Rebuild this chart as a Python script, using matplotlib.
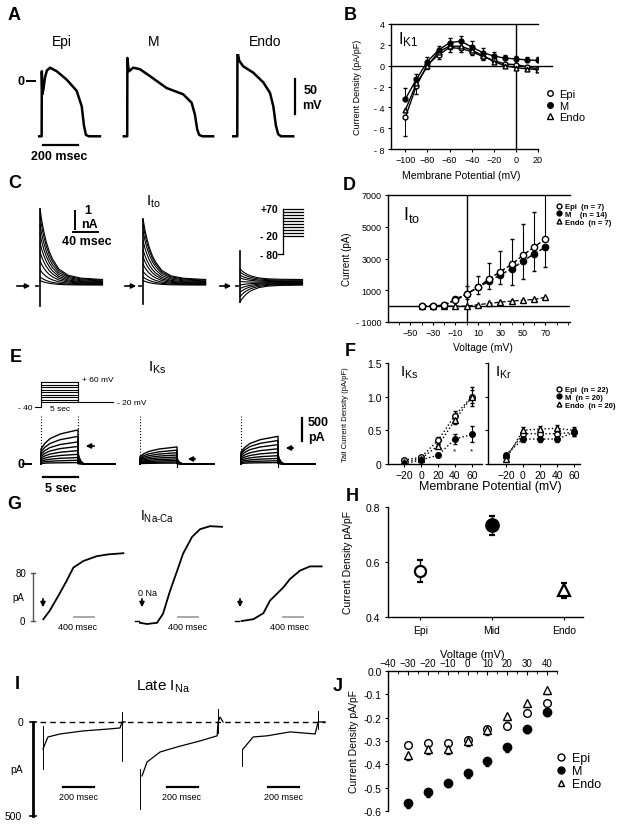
"""Multi-panel figure: transmural action potentials and ionic currents (Epi / M / Endo)."""

import matplotlib

matplotlib.use("Agg")
import matplotlib.pyplot as plt
import numpy as np
from matplotlib.lines import Line2D
from matplotlib.patches import FancyArrowPatch

plt.rcParams["font.family"] = ["Liberation Sans", "DejaVu Sans"]
plt.rcParams["mathtext.fontset"] = "custom"
plt.rcParams["mathtext.rm"] = "Liberation Sans"
plt.rcParams["mathtext.it"] = "Liberation Sans:italic"
plt.rcParams["axes.linewidth"] = 1.0
plt.rcParams["xtick.major.size"] = 3
plt.rcParams["ytick.major.size"] = 3

# ---------------- data ----------------
# A: action potentials (ms, mV)
AP_EPI_T = [-14, 0, 1, 4, 10, 19, 30, 48, 86, 143, 200, 229, 242, 253, 270, 333]
AP_EPI_V = [-79, -79, 14, -19, -12, 5, 15, 19, 14, 2, -14, -36, -64, -77, -79, -79]
AP_M_T = [-19, 0, 1, 6, 11, 34, 72, 130, 225, 320, 368, 387, 400, 411, 430, 491]
AP_M_V = [-79, -79, 33, 20, 14, 19, 17, 7, -10, -19, -31, -48, -69, -77, -79, -79]
AP_ENDO_T = [-23, 0, 1, 11, 34, 91, 149, 187, 206, 221, 234, 250, 320]
AP_ENDO_V = [-79, -79, 43, 29, 21, 12, -2, -17, -36, -64, -76, -79, -79]

# B: I_K1 density (pA/pF)
K1_V = [-100, -90, -80, -70, -60, -50, -40, -30, -20, -10, 0, 10, 20]
K1_EPI = [-4.95, -1.93, 0.1, 1.03, 1.75, 1.65, 1.35, 0.88, 0.5, 0.16, 0.1, -0.1, -0.3]
K1_M = [-3.2, -1.3, 0.4, 1.5, 2.2, 2.35, 1.8, 1.25, 0.93, 0.72, 0.65, 0.55, 0.5]
K1_ENDO = [-4.26, -1.7, -0.06, 1.35, 1.87, 1.87, 1.5, 0.97, 0.4, 0.0, -0.2, -0.3, -0.37]
K1_EPI_ERR = [1.8, 0.8, 0.4, 0.4, 0.4, 0.3, 0.3, 0.3, 0.2, 0.2, 0.2, 0.2, 0.2]
K1_M_ERR = [1.1, 0.5, 0.4, 0.4, 0.5, 0.5, 0.6, 0.4, 0.4, 0.3, 0.3, 0.3, 0.3]

# C: I_to traces (ms, nA)
C_T = [0, 3, 6, 10, 15, 20, 30, 45, 65, 100]
C_DECAY = [1.0, 0.82, 0.68, 0.53, 0.39, 0.29, 0.15, 0.06, 0.02, 0.0]
C_SS = [0.05, 0.08, 0.11, 0.14, 0.17, 0.20, 0.24, 0.28, 0.32, 0.36]
C_PEAK_EPI = [0.3, 0.5, 0.9, 1.4, 1.9, 2.4, 2.9, 3.4, 3.9, 4.3]
C_PEAK_M = [0.3, 0.5, 0.8, 1.2, 1.6, 2.0, 2.5, 3.0, 3.4, 3.7]
C_PEAK_ENDO = [-0.9, -0.6, -0.35, -0.15, 0.05, 0.25, 0.45, 0.6, 0.78, 0.95]
C_ART_LO = [-1.1, -1.0, -0.9]
C_ART_HI = [4.3, 3.7, 1.95]
C_STEPS_MV = [-20, -10, 0, 10, 20, 30, 40, 50, 60, 70]
C_HOLD_MV = -80

# D: I_to I-V (pA)
TO_V = [-40, -30, -20, -10, 0, 10, 20, 30, 40, 50, 60, 70]
TO_EPI = [0, 0, 80, 360, 760, 1185, 1714, 2180, 2625, 3200, 3720, 4230]
TO_M = [0, 0, 45, 444, 762, 1185, 1566, 1968, 2350, 2815, 3300, 3700]
TO_ENDO = [0, 0, 0, 0, 0, 90, 170, 250, 320, 370, 420, 560]
TO_EPI_ERR = [0, 0, 0, 0, 530, 740, 1000, 1300, 1580, 2000, 2180, 3150]
TO_M_ERR = [0, 0, 0, 0, 300, 400, 500, 600, 1000, 1100, 1060, 1250]

# E: I_Ks traces (s, pA)
E_RISE_T = [0, 0.5, 1.2, 2.6, 5.0]
E_RISE = [0.44, 0.6, 0.74, 0.88, 1.0]
E_TAIL_T = [5.0, 5.15, 5.4, 5.8, 10.0]
E_TAIL = [0.35, 0.2, 0.08, 0.0, 0.0]
E_FINAL_EPI = [30, 80, 140, 210, 290, 380, 480, 600, 740]
E_FINAL_M = [20, 45, 75, 110, 150, 195, 245, 300, 370]
E_FINAL_ENDO = [30, 70, 120, 180, 250, 330, 420, 510, 600]
E_STEPS_MV = [-20, -10, 0, 10, 20, 30, 40, 50, 60]
E_HOLD_MV = -40
E_TAIL_MV = -20

# F: tail current densities (pA/pF)
F_V = [-20, 0, 20, 40, 60]
KS_EPI = [0.06, 0.10, 0.35, 0.72, 1.0]
KS_M = [0.0, 0.06, 0.13, 0.37, 0.44]
KS_ENDO = [0.03, 0.08, 0.27, 0.65, 1.0]
KS_EPI_ERR = [0.02, 0.02, 0.05, 0.06, 0.14]
KS_M_ERR = [0.02, 0.02, 0.03, 0.08, 0.12]
KS_ENDO_ERR = [0.02, 0.02, 0.03, 0.05, 0.1]
KR_EPI = [0.10, 0.45, 0.45, 0.45, 0.47]
KR_M = [0.14, 0.37, 0.37, 0.37, 0.47]
KR_ENDO = [0.07, 0.50, 0.52, 0.53, 0.50]
KR_ERR = [0.03, 0.05, 0.05, 0.05, 0.05]

# G: I_Na-Ca traces (ms, pA)
G_EPI_T = [7, 133, 307, 473, 607, 807, 1073, 1300, 1607]
G_EPI_I = [3, 17, 42, 67, 89, 100, 108, 111, 113]
G_M_T = [-40, 100, 300, 420, 560, 700, 820, 1000, 1160, 1360, 1600]
G_M_I = [-3, -5, -3, 12, 50, 83, 112, 140, 153, 158, 157]
G_ENDO_T = [33, 267, 467, 600, 867, 1000, 1200, 1400, 1633]
G_ENDO_I = [0, 3, 13, 34, 56, 70, 84, 91, 91]

# H: I_Na-Ca density
H_CELLS = ["Epi", "Mid", "Endo"]
H_MEAN = [0.566, 0.733, 0.497]
H_ERR = [0.04, 0.035, 0.028]

# I: late I_Na traces (ms, pA)
I_EPI_T = [0, 32, 110, 258, 432, 497, 510, 530]
I_EPI_I = [-144, -80, -64, -48, -37, -32, 0, 0]
I_M_T = [13, 45, 129, 239, 387, 497, 503, 516, 535]
I_M_I = [-287, -213, -160, -133, -101, -74, 0, 26, 0]
I_ENDO_T = [6, 71, 161, 310, 471, 490, 535]
I_ENDO_I = [-144, -80, -74, -53, -64, 0, 0]
I_ART_T = [[0, 510], [0, 503], [0, 490]]
I_ART_LO = [[-250, -207], [-463, -60], [-234, -40]]
I_ART_HI = [[-21, 53], [-250, 69], [-144, 58]]

# J: late I_Na density
J_V = [-30, -20, -10, 0, 10, 20, 30, 40]
J_EPI = [-0.318, -0.31, -0.31, -0.296, -0.249, -0.234, -0.181, -0.138]
J_M = [-0.566, -0.52, -0.478, -0.437, -0.385, -0.325, -0.247, -0.174]
J_ENDO = [-0.36, -0.336, -0.336, -0.30, -0.253, -0.191, -0.135, -0.08]
J_ERR = 0.02

# ---------------- layout helpers (pixel coordinates, top-left origin) ----------------
W, H = 629, 828
fig = plt.figure(figsize=(W / 100, H / 100), dpi=100)


def px_axes(x0, y0, x1, y1):
    return fig.add_axes([x0 / W, 1 - y1 / H, (x1 - x0) / W, (y1 - y0) / H])


def ftext(x, y, s, **kw):
    kw.setdefault("ha", "center")
    kw.setdefault("va", "center")
    fig.text(x / W, 1 - y / H, s, **kw)


def farrow(x0, y0, x1, y1):
    fig.add_artist(
        FancyArrowPatch(
            (x0 / W, 1 - y0 / H),
            (x1 / W, 1 - y1 / H),
            transform=fig.transFigure,
            arrowstyle="-|>",
            mutation_scale=7,
            lw=1.2,
            color="black",
        )
    )


EPI = dict(marker="o", mfc="white", mec="black", color="black")
MID = dict(marker="o", mfc="black", mec="black", color="black")
ENDO = dict(marker="^", mfc="white", mec="black", color="black")

for letter, (x, y) in {
    "A": (14, 16), "B": (350, 16), "C": (15, 183), "D": (349, 185), "E": (16, 357),
    "F": (350, 352), "G": (14, 505), "H": (352, 497), "I": (17, 685), "J": (338, 687),
}.items():
    ftext(x, y, letter, fontsize=13, fontweight="bold")

# ---------------- A: action potentials ----------------
axA = px_axes(0, 55, 330, 165)
axA.set_xlim(-238, 1648)
axA.set_ylim(-118.6, 38.6)
axA.axis("off")
for (t, v), off in zip([(AP_EPI_T, AP_EPI_V), (AP_M_T, AP_M_V), (AP_ENDO_T, AP_ENDO_V)], [0, 489, 1118]):
    axA.plot(np.array(t) + off, v, color="black", lw=1.8)
axA.plot([7, 207], [-91, -91], color="black", lw=1.6)
axA.plot([1447, 1447], [3, -47], color="black", lw=1.6)
axA.plot([-84, -38], [0, 0], color="black", lw=1.4)
ftext(21, 82, "0", fontsize=9, fontweight="bold")
ftext(59, 157, "200 msec", fontsize=9, fontweight="bold")
ftext(311, 91, "50", fontsize=9, fontweight="bold")
ftext(312, 106, "mV", fontsize=9, fontweight="bold")
for name, x in [("Epi", 62), ("M", 154), ("Endo", 265)]:
    ftext(x, 42, name, fontsize=10)

# ---------------- B: I_K1 ----------------
axB = px_axes(391, 25, 538, 150)
axB.set_xlim(-113, 20)
axB.set_ylim(-8, 4)
axB.spines["right"].set_visible(False)
axB.axvline(0, color="black", lw=1)
axB.plot([-113, 33], [0, 0], color="black", lw=1, clip_on=False)
axB.errorbar(K1_V, K1_EPI, yerr=[K1_EPI_ERR, [0] * len(K1_V)], ms=3.5, lw=1, capsize=1.5, elinewidth=0.7, **EPI)
axB.errorbar(K1_V, K1_ENDO, ms=3.5, lw=1, **ENDO)
axB.errorbar(K1_V, K1_M, yerr=[[0] * len(K1_V), K1_M_ERR], ms=3.5, lw=1, capsize=1.5, elinewidth=0.7, **MID)
axB.set_xticks(range(-100, 21, 20))
axB.set_yticks(range(-8, 5, 2))
axB.set_yticklabels(["- 8", "- 6", "- 4", "- 2", "0", "2", "4"])
axB.tick_params(labelsize=6.5, length=2.5, pad=2)
axB.set_ylabel("Current Density (pA/pF)", fontsize=6.5)
axB.yaxis.set_label_coords(-0.2, 0.5)
axB.set_xlabel("Membrane Potential (mV)", fontsize=7.5)
axB.xaxis.set_label_coords(0.48, -0.17)
axB.text(0.05, 0.88, r"I$_{\rm K1}$", transform=axB.transAxes, fontsize=12, va="center")
hB = [Line2D([], [], ls="", ms=4, **s) for s in (EPI, MID, ENDO)]
fig.legend(hB, ["Epi", "M", "Endo"], loc="upper left", bbox_to_anchor=(546 / W, 1 - 90 / H), frameon=False,
           fontsize=8, handlelength=0.8, handletextpad=0.4, labelspacing=0.15, borderpad=0, borderaxespad=0)

# ---------------- C: I_to traces ----------------
axC = px_axes(0, 200, 320, 312)
axC.set_xlim(-64, 448)
axC.set_ylim(-1.39, 4.83)
axC.axis("off")
for k, (peaks, off) in enumerate(zip([C_PEAK_EPI, C_PEAK_M, C_PEAK_ENDO], [0, 165, 320])):
    for pk, ss in zip(peaks, C_SS):
        axC.plot(np.array(C_T) + off, ss + (pk - ss) * np.array(C_DECAY), color="black", lw=0.8)
    axC.plot([off, off], [C_ART_LO[k], C_ART_HI[k]], color="black", lw=1.2)
    axC.plot([off - 6.4, off - 3.2], [0, 0], color="black", lw=1.2)
axC.plot([53, 93], [3.0, 3.0], color="black", lw=1.4)
axC.plot([56, 56], [3.17, 4.17], color="black", lw=1.4)
ftext(88, 211, "1", fontsize=9, fontweight="bold")
ftext(89, 225, "nA", fontsize=9, fontweight="bold")
ftext(87, 242, "40 msec", fontsize=9, fontweight="bold")
ftext(153, 202, r"I$_{\rm to}$", fontsize=11)
for x0, x1 in [(14, 33), (122, 139), (217, 234)]:
    farrow(x0, 287, x1, 287)

axCp = px_axes(274, 205, 306, 262)
axCp.set_xlim(-9, 23)
axCp.set_ylim(-103, 86.7)
axCp.axis("off")
axCp.plot([-5, 0], [C_HOLD_MV, C_HOLD_MV], color="black", lw=0.9)
axCp.plot([0, 0], [C_HOLD_MV, max(C_STEPS_MV)], color="black", lw=0.9)
for v in C_STEPS_MV:
    axCp.plot([0, 20], [v, v], color="black", lw=0.9)
ftext(278, 210, "+70", fontsize=7.5, fontweight="bold", ha="right")
ftext(278, 237, "- 20", fontsize=7.5, fontweight="bold", ha="right")
ftext(278, 256, "- 80", fontsize=7.5, fontweight="bold", ha="right")

# ---------------- D: I_to I-V ----------------
axD = px_axes(388, 196, 570, 323)
axD.set_xlim(-70, 92)
axD.set_ylim(-1000, 7000)
axD.spines["right"].set_visible(False)
axD.axvline(0, color="black", lw=1)
axD.axhline(0, color="black", lw=1)
axD.errorbar(TO_V, TO_ENDO, ms=4, ls="--", lw=0.9, **ENDO)
axD.errorbar(TO_V, TO_M, yerr=[TO_M_ERR, [0] * len(TO_V)], ms=4.5, ls="--", lw=1, capsize=1.5, elinewidth=0.8, **MID)
axD.errorbar(TO_V, TO_EPI, yerr=[[0] * len(TO_V), TO_EPI_ERR], ms=4.5, ls="--", lw=1, capsize=1.5, elinewidth=0.8, **EPI)
axD.set_xticks(range(-50, 71, 20))
axD.set_xticks(range(-60, 91, 10), minor=True)
axD.set_yticks([-1000, 1000, 3000, 5000, 7000])
axD.set_yticklabels(["- 1000", "1000", "3000", "5000", "7000"])
axD.tick_params(labelsize=6.5, length=2.5, pad=2)
axD.tick_params(which="minor", length=2)
axD.set_ylabel("Current (pA)", fontsize=7)
axD.yaxis.set_label_coords(-0.2, 0.5)
axD.set_xlabel("Voltage (mV)", fontsize=7.5)
axD.xaxis.set_label_coords(0.52, -0.16)
axD.text(0.08, 0.85, r"I$_{\rm to}$", transform=axD.transAxes, fontsize=13, va="center")
hD = [Line2D([], [], ls="", ms=3.5, **s) for s in (EPI, MID, ENDO)]
fig.legend(hD, ["Epi  (n = 7)", "M    (n = 14)", "Endo  (n = 7)"], loc="upper left",
           bbox_to_anchor=(556 / W, 1 - 204 / H), frameon=False, prop=dict(size=5.5, weight="bold"),
           handlelength=0.8, handletextpad=0.4, labelspacing=0.05, borderpad=0, borderaxespad=0)

# ---------------- E: I_Ks traces ----------------
axE = px_axes(10, 410, 330, 485)
axE.set_xlim(-4.19, 39.05)
axE.set_ylim(-434, 1193)
axE.axis("off")
for k, (finals, off) in enumerate(zip([E_FINAL_EPI, E_FINAL_M, E_FINAL_ENDO], [0, 13.38, 27.03])):
    for f in finals:
        t = np.array([0] + E_RISE_T + E_TAIL_T) + off
        y = np.array([0] + [f * r for r in E_RISE] + [f * r for r in E_TAIL])
        axE.plot(t, y, color="black", lw=1.0)
    axE.plot([off, off], [0, 1040], color="black", lw=0.8, ls=":")
    if k == 0:
        axE.plot([off + 5, off + 5], [0, 1040], color="black", lw=0.8, ls=":")
    else:
        axE.plot([off + 5, off + 5], [-60, 60], color="black", lw=0.8)
axE.plot([-2.4, -1.4], [0, 0], color="black", lw=1.4)
axE.plot([0.27, 5.0], [-282, -282], color="black", lw=1.6)
axE.plot([35.27, 35.27], [500, 1000], color="black", lw=1.6)
ftext(21, 465, "0", fontsize=9, fontweight="bold")
ftext(61, 489, "5 sec", fontsize=9, fontweight="bold")
ftext(318, 423, "500", fontsize=9, fontweight="bold")
ftext(316, 438, "pA", fontsize=9, fontweight="bold")
ftext(157, 368, r"I$_{\rm Ks}$", fontsize=11)
for x0, x1, y in [(97, 83, 447), (198, 185, 460), (296, 283, 449)]:
    farrow(x0, y, x1, y)

axEp = px_axes(15, 375, 145, 412)
axEp.set_xlim(-3.5, 14.05)
axEp.set_ylim(-56, 92)
axEp.axis("off")
axEp.plot([-0.8, 0], [E_HOLD_MV, E_HOLD_MV], color="black", lw=0.8)
axEp.plot([0, 0], [E_HOLD_MV, max(E_STEPS_MV)], color="black", lw=0.8)
for v in E_STEPS_MV:
    axEp.plot([0, 5], [v, v], color="black", lw=0.8)
axEp.plot([5, 5], [min(E_STEPS_MV), max(E_STEPS_MV)], color="black", lw=0.8)
axEp.plot([5, 9.7], [E_TAIL_MV, E_TAIL_MV], color="black", lw=0.8)
ftext(82, 380, "+ 60 mV", fontsize=6, ha="left")
ftext(117, 404, "- 20 mV", fontsize=6, ha="left")
ftext(25, 409, "- 40", fontsize=6)
ftext(60, 410, "5 sec", fontsize=6)

# ---------------- F: tail currents ----------------
axKs = px_axes(388, 364, 482, 465)
axKr = px_axes(488, 364, 580, 465)
axKs.set_xlim(-39, 72)
axKr.set_xlim(-41, 67)
for ax in (axKs, axKr):
    ax.set_ylim(0, 1.5)
    ax.spines["top"].set_visible(False)
    ax.spines["right"].set_visible(False)
    ax.set_xticks(F_V)
    ax.set_yticks([0, 0.5, 1.0, 1.5])
    ax.tick_params(labelsize=7.5, length=2.5, pad=2)
axKs.set_yticklabels(["0", "0.5", "1.0", "1.5"])
axKr.set_yticklabels([])
for ser, err, st in [(KS_EPI, KS_EPI_ERR, EPI), (KS_ENDO, KS_ENDO_ERR, ENDO), (KS_M, KS_M_ERR, MID)]:
    axKs.errorbar(F_V, ser, yerr=err, ms=4, ls=":", lw=1, capsize=1.5, elinewidth=0.8, **st)
for ser, st in [(KR_EPI, EPI), (KR_ENDO, ENDO), (KR_M, MID)]:
    axKr.errorbar(F_V, ser, yerr=KR_ERR, ms=4, ls=":", lw=1, capsize=1.5, elinewidth=0.8, **st)
axKs.text(40, 0.2, "*", fontsize=6, ha="center", va="center")
axKs.text(60, 0.2, "*", fontsize=6, ha="center", va="center")
ftext(400, 373, r"I$_{\rm Ks}$", fontsize=11, ha="left")
ftext(495, 373, r"I$_{\rm Kr}$", fontsize=11, ha="left")
ftext(490, 487, "Membrane Potential (mV)", fontsize=9)
ftext(345, 415, "Tail Current Density (pA/pF)", fontsize=5.5, rotation=90)
fig.legend(hD, ["Epi  (n = 22)", "M  (n = 20)", "Endo  (n = 20)"], loc="upper left",
           bbox_to_anchor=(556 / W, 1 - 387 / H), frameon=False, prop=dict(size=5.5, weight="bold"),
           handlelength=0.8, handletextpad=0.4, labelspacing=0.05, borderpad=0, borderaxespad=0)

# ---------------- G: I_Na-Ca traces ----------------
axG = px_axes(0, 520, 335, 640)
axG.set_xlim(-860, 5840)
axG.set_ylim(-30, 170)
axG.axis("off")
for (t, i), off in zip([(G_EPI_T, G_EPI_I), (G_M_T, G_M_I), (G_ENDO_T, G_ENDO_I)], [0, 1980, 3940]):
    axG.plot(np.array(t) + off, i, color="black", lw=1.3)
for off, b0 in [(0, 620), (1980, 720), (3940, 860)]:
    axG.plot([off + b0, off + b0 + 400], [7, 7], color="#9a9a9a", lw=1.2)
axG.plot([1980 - 140, 1980 - 60], [0, 0], color="black", lw=1)
axG.plot([3940 - 100, 3940 - 20], [0, 0], color="black", lw=1)
axG.plot([-200, -200], [0, 80], color="#555555", lw=1)
axG.plot([-240, -160], [80, 80], color="#555555", lw=1)
axG.plot([-240, -160], [0, 0], color="#555555", lw=1)
ftext(21, 574, "80", fontsize=7)
ftext(18, 598, "pA", fontsize=7)
ftext(22, 622, "0", fontsize=7)
ftext(148, 594, "0 Na", fontsize=6.5)
for x in (78, 187, 290):
    ftext(x, 627, "400 msec", fontsize=6.5)
ftext(157, 517, r"I$_{\rm Na\text{-}Ca}$", fontsize=10)
for x in (43, 142, 240):
    farrow(x, 597, x, 611)

# ---------------- H: I_Na-Ca density ----------------
axH = px_axes(388, 508, 583, 618)
axH.set_xlim(-0.45, 2.27)
axH.set_ylim(0.4, 0.8)
axH.spines["top"].set_visible(False)
axH.spines["right"].set_visible(False)
for k, st in enumerate((EPI, MID, ENDO)):
    axH.errorbar([k], [H_MEAN[k]], yerr=[H_ERR[k]], ms=8 if k != 1 else 9, mew=1.6, capsize=2.5, elinewidth=1, **st)
axH.set_xticks([0, 1, 2])
axH.set_xticklabels(H_CELLS)
axH.set_yticks([0.4, 0.6, 0.8])
axH.tick_params(labelsize=7.5, length=2.5, pad=3)
axH.set_ylabel("Current Density pA/pF", fontsize=7.5)
axH.yaxis.set_label_coords(-0.18, 0.5)

# ---------------- I: late I_Na traces ----------------
axI = px_axes(0, 700, 335, 822)
axI.set_xlim(-277, 1883)
axI.set_ylim(-527, 122)
axI.axis("off")
axI.plot([-19, 1819], [0, 0], color="black", lw=1, ls=(0, (4, 3)))
for k, ((t, i), off) in enumerate(zip([(I_EPI_T, I_EPI_I), (I_M_T, I_M_I), (I_ENDO_T, I_ENDO_I)], [0, 626, 1284])):
    axI.plot(np.array(t) + off, i, color="black", lw=0.9)
    for ta, lo, hi in zip(I_ART_T[k], I_ART_LO[k], I_ART_HI[k]):
        axI.plot([ta + off, ta + off], [lo, hi], color="black", lw=0.7)
for b0 in (129, 800, 1451):
    axI.plot([b0, b0 + 200], [-346, -346], color="black", lw=1.6)
axI.plot([-64.5, -64.5], [0, -500], color="black", lw=2)
axI.plot([-84, -45], [0, 0], color="black", lw=1.2)
axI.plot([-84, -45], [-500, -500], color="black", lw=1.2)
ftext(20, 723, "0", fontsize=7.5)
ftext(17, 770, "pA", fontsize=7.5)
ftext(13, 817, "500", fontsize=7.5)
for x in (79, 182, 283):
    ftext(x, 798, "200 msec", fontsize=6.5)
ftext(163, 687, r"Late I$_{\rm Na}$", fontsize=11)

# ---------------- J: late I_Na density ----------------
axJ = px_axes(388, 672, 557, 812)
axJ.set_xlim(-40, 45)
axJ.set_ylim(-0.6, 0.0)
axJ.spines["bottom"].set_visible(False)
axJ.spines["right"].set_visible(False)
n = len(J_V)
axJ.errorbar(J_V, J_EPI, yerr=[[0] * n, [J_ERR * 0.7] * n], ls="", ms=5.5, capsize=1.5, elinewidth=0.8, **EPI)
axJ.errorbar(J_V, J_ENDO, yerr=[[J_ERR] * n, [0] * n], ls="", ms=5.5, capsize=1.5, elinewidth=0.8, **ENDO)
axJ.errorbar(J_V, J_M, yerr=[[J_ERR] * n, [0] * n], ls="", ms=6, capsize=1.5, elinewidth=0.8, **MID)
axJ.xaxis.tick_top()
axJ.xaxis.set_label_position("top")
axJ.set_xticks(range(-40, 41, 10))
axJ.set_xticks(range(-40, 46, 5), minor=True)
axJ.tick_params(axis="x", which="both", direction="in", labelsize=7, pad=2)
axJ.tick_params(axis="x", which="minor", length=2)
axJ.set_yticks(np.arange(-0.6, 0.01, 0.1))
axJ.set_yticklabels(["-0.6", "-0.5", "-0.4", "-0.3", "-0.2", "-0.1", "0.0"])
axJ.tick_params(axis="y", labelsize=7.5, length=2.5, pad=2)
axJ.set_xlabel("Voltage (mV)", fontsize=8, labelpad=1)
axJ.set_ylabel("Current Density pA/pF", fontsize=7.5)
axJ.yaxis.set_label_coords(-0.17, 0.5)
hJ = [Line2D([], [], ls="", ms=5, **s) for s in (EPI, MID, ENDO)]
fig.legend(hJ, ["Epi", "M", "Endo"], loc="upper left", bbox_to_anchor=(556 / W, 1 - 753 / H), frameon=False,
           fontsize=9, handlelength=0.8, handletextpad=0.5, labelspacing=0.1, borderpad=0, borderaxespad=0)

fig.savefig("out.png", dpi=100)
